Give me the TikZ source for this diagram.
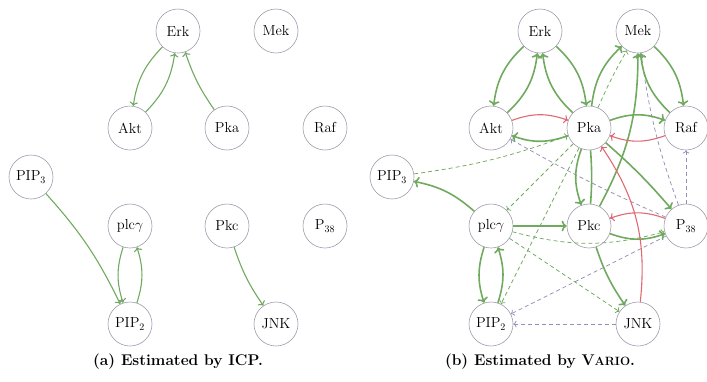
\documentclass[tikz,border=0pt]{standalone}
\usepackage{fontspec}
\usetikzlibrary{arrows.meta}
\definecolor{egreen}{RGB}{112,170,95}
\definecolor{ered}{RGB}{224,104,114}
\definecolor{epurple}{RGB}{150,142,182}
\definecolor{nborder}{RGB}{160,156,174}
\tikzset{
  var/.style={circle, draw=nborder, line width=0.6pt, fill=white,
    minimum size=44pt, inner sep=0pt, font=\fontsize{14.5}{16}\selectfont},
  gthin/.style={draw=egreen, line width=1.1pt, ->},
  gthick/.style={draw=egreen, line width=1.6pt, ->},
  rline/.style={draw=ered, line width=1.1pt, ->},
  gdash/.style={draw=egreen, line width=0.75pt, dash pattern=on 4pt off 3pt, ->},
  pdash/.style={draw=epurple, line width=0.75pt, dash pattern=on 4pt off 3pt, ->},
  capt/.style={font=\fontsize{15.5}{18}\selectfont\bfseries}
}
\begin{document}
\begin{tikzpicture}[x=1pt,y=-1pt]
\useasboundingbox (0,0) rectangle (707,381);

% ---- panel (a): ICP ----
\node[var] (erkA) at (178,31) {Erk};
\node[var] (mekA) at (276,31) {Mek};
\node[var] (aktA) at (130,128) {Akt};
\node[var] (pkaA) at (227,128) {Pka};
\node[var] (rafA) at (325,128) {Raf};
\node[var] (pip3A) at (31,177) {PIP$_3$};
\node[var] (plcA) at (130,226) {plc$\gamma$};
\node[var] (pkcA) at (227,226) {Pkc};
\node[var] (p38A) at (325,226) {P$_{38}$};
\node[var] (pip2A) at (130,324) {PIP$_2$};
\node[var] (jnkA) at (276,324) {JNK};

\draw[gthin] (erkA) to[bend right=18] (aktA);
\draw[gthin] (aktA) to[bend right=18] (erkA);
\draw[gthin] (pkaA) to[bend left=8] (erkA);
\draw[gthin] (pip3A) to[bend left=8] (pip2A);
\draw[gthin] (plcA) to[bend right=18] (pip2A);
\draw[gthin] (pip2A) to[bend right=18] (plcA);
\draw[gthin] (pkcA) to[bend right=8] (jnkA);

\node[capt] (captA) at (178,362) {(a) Estimated by ICP.};

% ---- panel (b): Vario ----
\node[var] (erk) at (540,31) {Erk};
\node[var] (mek) at (638,31) {Mek};
\node[var] (akt) at (491,128) {Akt};
\node[var] (pka) at (589,128) {Pka};
\node[var] (raf) at (686,128) {Raf};
\node[var] (pip3) at (392,177) {PIP$_3$};
\node[var] (plc) at (491,226) {plc$\gamma$};
\node[var] (pkc) at (589,226) {Pkc};
\node[var] (p38) at (686,226) {P$_{38}$};
\node[var] (pip2) at (491,324) {PIP$_2$};
\node[var] (jnk) at (638,324) {JNK};

% dashed edges
\draw[gdash] (pip3) to[bend right=6] (pka);
\draw[gdash] (pka) to[bend left=3] (mek);
\draw[gdash] (pka) to (plc);
\draw[gdash] (pka) to (pip2);
\draw[gdash] (plc) to[bend right=15] (p38);
\draw[gdash] (plc) to (jnk);
\draw[pdash] (p38) to[bend left=6] (mek);
\draw[pdash] (p38) to (raf);
\draw[pdash] (p38) to[bend left=3] (akt);
\draw[pdash] (p38) to (pip2);
\draw[pdash] (jnk) to (pip2);

% solid edges
\draw[gthick] (erk) to[bend right=20] (akt);
\draw[gthick] (akt) to[bend right=20] (erk);
\draw[gthick] (erk) to[bend left=20] (pka);
\draw[gthick] (pka) to[bend left=20] (erk);
\draw[gthick] (mek) to[bend left=20] (raf);
\draw[gthick] (raf) to[bend left=20] (mek);
\draw[gthick] (pka) to[bend left=20] (mek);
\draw[gthick] (pkc) to[bend right=14] (mek);
\draw[gthick] (pka) to[bend left=20] (raf);
\draw[gthick] (pka) to[bend left=20] (akt);
\draw[gthick] (pka) to[bend right=20] (pkc);
\draw[gthick, -] (pkc) to[bend right=4] (pka);
\draw[gthick] (pka) to[bend left=4] (p38);
\draw[gthick] (plc) to[bend right=15] (pip3);
\draw[gthick] (plc) to (pkc);
\draw[gthick] (pkc) to[bend right=20] (p38);
\draw[gthick] (pkc) to[bend right=8] (jnk);
\draw[gthick] (plc) to[bend right=18] (pip2);
\draw[gthick] (pip2) to[bend right=18] (plc);
\draw[rline] (akt) to[bend left=20] (pka);
\draw[rline] (raf) to[bend left=20] (pka);
\draw[rline] (p38) to[bend right=20] (pkc);
\draw[rline] (jnk) to[bend right=20] (pka);

\node[capt] (captB) at (540,362) {(b) Estimated by V{\fontsize{12}{14}\selectfont ARIO}.};
\end{tikzpicture}
\end{document}
